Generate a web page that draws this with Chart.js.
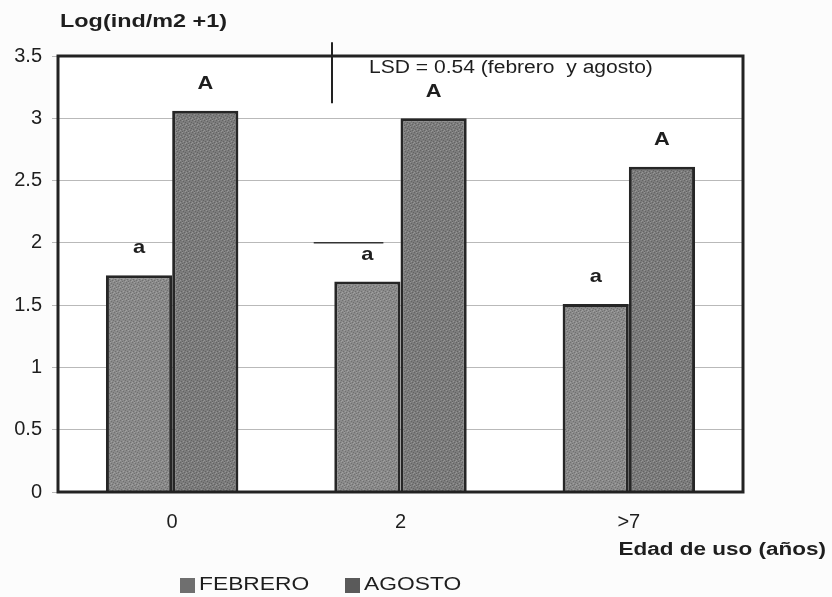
<!DOCTYPE html>
<html>
<head>
<meta charset="utf-8">
<script src="https://cdn.jsdelivr.net/npm/chart.js@4.4.1/dist/chart.umd.min.js"></script>
<style>
  html, body { margin: 0; padding: 0; background: #fcfcfc; }
  #wrap { width: 832px; height: 597px; }
</style>
</head>
<body>
<div id="wrap"><canvas id="chart" width="832" height="597"></canvas></div>
<script>
// data
const categories = ["0", "2", ">7"];
const febrero = [1.74, 1.69, 1.51];
const agosto = [3.06, 3.00, 2.61];
const febreroLetters = ["a", "a", "a"];
const agostoLetters = ["A", "A", "A"];
const yTicks = [0, 0.5, 1, 1.5, 2, 2.5, 3, 3.5];
const yTickLabels = ["0", "0.5", "1", "1.5", "2", "2.5", "3", "3.5"];
const lsdLine = { at: 0.7, from: 3.61, to: 3.12 };   // LSD marker, in category / value units
const stray = { from: 0.62, to: 0.925, value: 2 };   // short dark segment near "a" at 2

const FONT = "'Liberation Sans', Arial, sans-serif";

// grainy grey fill like the scanned bars
function grain(base, dark, light) {
    const c = document.createElement("canvas");
    c.width = 6; c.height = 6;
    const g = c.getContext("2d");
    g.fillStyle = base; g.fillRect(0, 0, 6, 6);
    g.fillStyle = dark;
    [[0,0],[3,1],[1,3],[4,4],[5,2],[2,5]].forEach(p => g.fillRect(p[0], p[1], 1, 1));
    g.fillStyle = light;
    [[2,0],[5,5],[0,4],[3,3]].forEach(p => g.fillRect(p[0], p[1], 1, 1));
    return g.createPattern(c, "repeat");
}

function text(ctx, str, x, y, font, align, sx) {
    ctx.save();
    ctx.font = font;
    ctx.textBaseline = "middle";
    ctx.textAlign = align;
    ctx.translate(x, y);
    ctx.scale(sx, 1);
    ctx.fillText(str, 0, 0);
    ctx.restore();
}

const overlay = {
    id: "overlay",
    beforeDraw(chart) {
        const { ctx, chartArea: a } = chart;
        ctx.save();
        ctx.fillStyle = "#fcfcfc";
        ctx.fillRect(0, 0, chart.width, chart.height);
        ctx.fillStyle = "#ffffff";
        ctx.fillRect(a.left, a.top, a.right - a.left, a.bottom - a.top);
        ctx.restore();
    },
    afterDatasetsDraw(chart) {
        const { ctx, chartArea: a, scales: { x, y } } = chart;
        ctx.save();
        // frame
        ctx.strokeStyle = "#222";
        ctx.lineWidth = 3;
        ctx.strokeRect(a.left, a.top, a.right - a.left, a.bottom - a.top);

        // significance letters above bars
        ctx.fillStyle = "#1e1e1e";
        const letters = [febreroLetters, agostoLetters];
        letters.forEach((set, i) => {
            chart.getDatasetMeta(i).data.forEach((bar, j) => {
                text(ctx, set[j], bar.x, bar.y - 27, "bold 19px " + FONT, "center", 1.15);
            });
        });

        // LSD marker
        const lx = x.getPixelForValue(lsdLine.at);
        ctx.lineWidth = 2;
        ctx.beginPath();
        ctx.moveTo(lx, y.getPixelForValue(lsdLine.from));
        ctx.lineTo(lx, y.getPixelForValue(lsdLine.to));
        ctx.stroke();
        text(ctx, "LSD = 0.54 (febrero  y agosto)", lx + 37, a.top + 12, "18px " + FONT, "left", 1.17);

        // short dark segment
        ctx.strokeStyle = "#333";
        ctx.lineWidth = 1.5;
        ctx.beginPath();
        ctx.moveTo(x.getPixelForValue(stray.from), y.getPixelForValue(stray.value));
        ctx.lineTo(x.getPixelForValue(stray.to), y.getPixelForValue(stray.value));
        ctx.stroke();

        // axis titles
        text(ctx, "Log(ind/m2 +1)", 60, 22, "bold 18px " + FONT, "left", 1.3);
        text(ctx, "Edad de uso (años)", 826, 550, "bold 18px " + FONT, "right", 1.25);

        // legend
        const legendX = [180, 345];
        chart.data.datasets.forEach((ds, i) => {
            ctx.fillStyle = ds.legendColor;
            ctx.fillRect(legendX[i], 578, 15, 15);
            ctx.fillStyle = "#1e1e1e";
            text(ctx, ds.label, legendX[i] + 19, 585, "19px " + FONT, "left", 1.2);
        });
        ctx.restore();
    }
};

new Chart(document.getElementById("chart"), {
    type: "bar",
    data: {
        labels: categories,
        datasets: [
            {
                label: "FEBRERO",
                data: febrero,
                backgroundColor: grain("#8a8a8a", "#707070", "#a0a0a0"),
                legendColor: "#6f6f6f",
                borderColor: "#262626",
                borderWidth: 3,
                categoryPercentage: 0.58,
                barPercentage: 1.0
            },
            {
                label: "AGOSTO",
                data: agosto,
                backgroundColor: grain("#7c7c7c", "#636363", "#959595"),
                legendColor: "#5a5a5a",
                borderColor: "#262626",
                borderWidth: 3,
                categoryPercentage: 0.58,
                barPercentage: 1.0
            }
        ]
    },
    options: {
        responsive: false,
        animation: false,
        layout: { padding: { top: 56, right: 89, bottom: 0, left: 0 } },
        plugins: {
            legend: { display: false },
            tooltip: { enabled: false }
        },
        scales: {
            x: {
                grid: { display: false, drawTicks: false },
                border: { display: false },
                ticks: { color: "#1e1e1e", font: { family: FONT, size: 20 }, padding: 18 },
                afterFit(scale) { scale.height = 105; }
            },
            y: {
                min: 0,
                max: 3.5,
                afterBuildTicks(scale) { scale.ticks = yTicks.map(v => ({ value: v })); },
                grid: { color: "#b9b9b9", lineWidth: 1, tickLength: 6 },
                border: { display: false },
                ticks: {
                    color: "#1e1e1e",
                    font: { family: FONT, size: 20 },
                    padding: 10,
                    callback: (v, i) => yTickLabels[i]
                },
                afterFit(scale) { scale.width = 58; }
            }
        }
    },
    plugins: [overlay]
});
</script>
</body>
</html>
